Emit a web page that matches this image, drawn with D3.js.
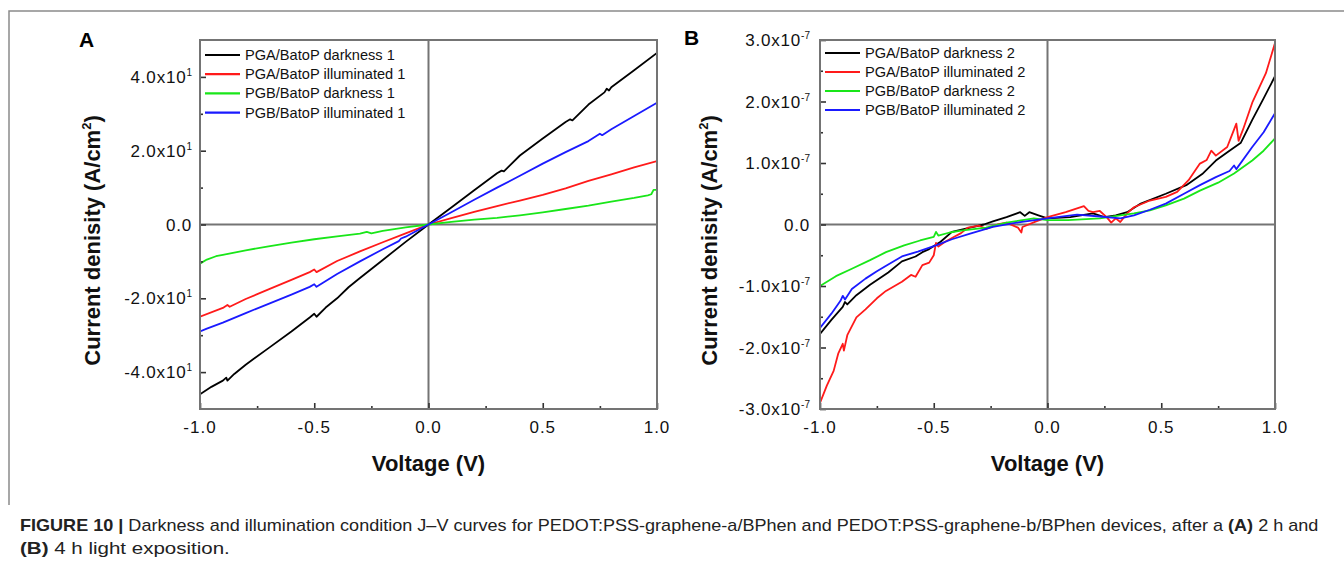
<!DOCTYPE html>
<html><head><meta charset="utf-8">
<script src="https://cdn.jsdelivr.net/npm/d3@7"></script>
<style>
html,body{margin:0;padding:0;background:#fff;}
svg{display:block;font-family:"Liberation Sans",Arial,sans-serif;}
</style></head>
<body>
<svg id="c" width="1344" height="564"></svg>
<script>
// ---------- DATA ----------
const seriesNamesA = ["PGA/BatoP darkness 1","PGA/BatoP illuminated 1","PGB/BatoP darkness 1","PGB/BatoP illuminated 1"];
const seriesNamesB = ["PGA/BatoP darkness 2","PGA/BatoP illuminated 2","PGB/BatoP darkness 2","PGB/BatoP illuminated 2"];
const seriesColors = ["#000000","#ff1a1a","#19e619","#1a1aff"];

const xTicks = [-1.0,-0.5,0.0,0.5,1.0];
const xTickLabels = ["-1.0","-0.5","0.0","0.5","1.0"];
const xMinorTicks = [-0.75,-0.25,0.25,0.75];

// Panel A (A/cm2, in units of 1)
const yTicksA = [-40,-20,0,20,40];
const yTickMantA = ["-4.0","-2.0","0.0","2.0","4.0"];
const yTickExpA = ["1","1","","1","1"];
const yMinorA = [-30,-10,10,30];

const blackA = [[-1,-46],[-0.95,-44],[-0.9,-42.3],[-0.885,-41.5],[-0.88,-42.3],[-0.85,-40.5],[-0.8,-38],[-0.7,-33.5],[-0.6,-29],[-0.52,-25.2],[-0.5,-24.2],[-0.49,-25],[-0.45,-22.5],[-0.4,-20],[-0.35,-17],[-0.3,-14.5],[-0.2,-9.6],[-0.1,-4.7],[0,0],[0.1,4.6],[0.2,9.3],[0.3,13.9],[0.32,14.6],[0.33,14.4],[0.4,18.7],[0.5,23.3],[0.6,27.8],[0.62,28.5],[0.63,28.2],[0.7,32.5],[0.77,35.8],[0.78,36.8],[0.79,36.3],[0.8,37.2],[0.9,41.8],[1,46.5]];
const redA = [[-1,-25],[-0.9,-22.6],[-0.88,-21.8],[-0.87,-22.3],[-0.8,-20.2],[-0.7,-17.6],[-0.6,-15],[-0.52,-12.9],[-0.5,-12.2],[-0.49,-12.9],[-0.4,-9.9],[-0.3,-7.3],[-0.2,-4.8],[-0.1,-2.4],[0,0],[0.1,1.7],[0.2,3.4],[0.3,5],[0.4,6.5],[0.5,8],[0.6,9.8],[0.7,11.8],[0.8,13.6],[0.9,15.5],[1,17.2]];
const greenA = [[-1,-10.6],[-0.97,-9.5],[-0.93,-8.6],[-0.9,-8.2],[-0.8,-7],[-0.7,-5.9],[-0.6,-4.9],[-0.5,-4],[-0.4,-3.2],[-0.3,-2.5],[-0.27,-2.0],[-0.25,-2.4],[-0.2,-1.7],[-0.1,-0.8],[0,0],[0.1,0.7],[0.2,1.3],[0.3,1.8],[0.4,2.5],[0.5,3.3],[0.6,4.2],[0.7,5.1],[0.8,6.2],[0.9,7.2],[0.96,7.9],[0.975,8.2],[0.985,9.4],[1,9.4]];
const blueA = [[-1,-29],[-0.97,-28.2],[-0.9,-26.6],[-0.8,-24],[-0.7,-21.5],[-0.6,-19],[-0.52,-16.9],[-0.5,-16.2],[-0.49,-16.9],[-0.4,-13.4],[-0.3,-10],[-0.2,-6.7],[-0.13,-4.5],[-0.12,-3.8],[-0.1,-3.3],[0,0],[0.1,3.3],[0.2,6.7],[0.3,10],[0.4,13.2],[0.5,16.5],[0.6,19.6],[0.7,22.6],[0.75,24.6],[0.76,24.2],[0.8,25.8],[0.9,29.4],[1,33]];

// Panel B (A/cm2, values in units of 1e-7)
const unitB = 1e-7;
const yTicksB = [-3,-2,-1,0,1,2,3];
const yTickMantB = ["-3.0","-2.0","-1.0","0.0","1.0","2.0","3.0"];
const yTickExpB = ["-7","-7","-7","","-7","-7","-7"];
const yMinorB = [-2.5,-1.5,-0.5,0.5,1.5,2.5];

const blackB = [[-1,-1.78],[-0.95,-1.55],[-0.9,-1.34],[-0.89,-1.26],[-0.88,-1.3],[-0.84,-1.15],[-0.78,-0.98],[-0.7,-0.78],[-0.64,-0.6],[-0.58,-0.52],[-0.55,-0.45],[-0.52,-0.4],[-0.47,-0.28],[-0.42,-0.12],[-0.34,-0.05],[-0.28,0.0],[-0.24,0.05],[-0.18,0.12],[-0.12,0.2],[-0.1,0.14],[-0.08,0.2],[-0.04,0.15],[0,0.1],[0.1,0.12],[0.2,0.18],[0.25,0.12],[0.3,0.15],[0.35,0.2],[0.41,0.34],[0.52,0.5],[0.61,0.64],[0.68,0.82],[0.74,1.04],[0.8,1.2],[0.85,1.33],[0.9,1.7],[0.95,2.05],[1,2.41]];
const redB = [[-1,-2.9],[-0.97,-2.62],[-0.94,-2.38],[-0.92,-2.1],[-0.9,-1.94],[-0.895,-2.05],[-0.88,-1.8],[-0.84,-1.51],[-0.8,-1.38],[-0.75,-1.2],[-0.71,-1.08],[-0.64,-0.93],[-0.6,-0.82],[-0.58,-0.85],[-0.55,-0.66],[-0.52,-0.62],[-0.5,-0.5],[-0.49,-0.3],[-0.48,-0.36],[-0.45,-0.28],[-0.42,-0.22],[-0.38,-0.14],[-0.35,-0.05],[-0.3,-0.02],[-0.27,-0.07],[-0.22,0.0],[-0.18,0.03],[-0.13,-0.05],[-0.115,-0.13],[-0.11,-0.04],[-0.05,0.05],[0,0.12],[0.08,0.2],[0.16,0.3],[0.18,0.22],[0.2,0.2],[0.23,0.22],[0.26,0.12],[0.28,0.03],[0.3,0.1],[0.32,0.04],[0.35,0.18],[0.38,0.28],[0.45,0.39],[0.52,0.45],[0.57,0.53],[0.62,0.72],[0.67,0.99],[0.7,1.05],[0.72,1.2],[0.74,1.12],[0.79,1.26],[0.81,1.45],[0.83,1.64],[0.84,1.36],[0.86,1.55],[0.9,1.98],[0.96,2.46],[1,2.95]];
const greenB = [[-1,-1.0],[-0.93,-0.84],[-0.86,-0.72],[-0.78,-0.58],[-0.71,-0.45],[-0.63,-0.34],[-0.56,-0.26],[-0.5,-0.2],[-0.49,-0.12],[-0.48,-0.18],[-0.43,-0.13],[-0.38,-0.1],[-0.27,-0.05],[-0.18,0.03],[-0.06,0.1],[0,0.07],[0.09,0.07],[0.23,0.1],[0.38,0.18],[0.45,0.23],[0.52,0.31],[0.6,0.42],[0.67,0.55],[0.75,0.68],[0.82,0.83],[0.9,1.04],[0.95,1.2],[1,1.4]];
const blueB = [[-1,-1.68],[-0.95,-1.45],[-0.91,-1.24],[-0.9,-1.16],[-0.89,-1.22],[-0.86,-1.05],[-0.8,-0.88],[-0.75,-0.76],[-0.7,-0.65],[-0.64,-0.52],[-0.57,-0.44],[-0.49,-0.34],[-0.42,-0.24],[-0.34,-0.15],[-0.24,-0.04],[-0.12,0.04],[0,0.1],[0.13,0.16],[0.23,0.13],[0.32,0.1],[0.38,0.15],[0.45,0.24],[0.52,0.34],[0.6,0.5],[0.67,0.64],[0.74,0.77],[0.8,0.87],[0.82,0.96],[0.83,0.9],[0.9,1.26],[0.95,1.5],[1,1.81]];

// ---------- DRAW ----------
const svg = d3.select("#c");
const frameCol = "#747474";

// outer figure frame
svg.append("path").attr("d","M9,505 L9,11 L1344,11").attr("fill","none").attr("stroke","#8a8a8a").attr("stroke-width",1.5);

function panel(cfg){
  const g = svg.append("g");
  const x = d3.scaleLinear().domain([-1,1]).range([cfg.left,cfg.right]);
  const y = d3.scaleLinear().domain(cfg.yDomain).range([cfg.bottom,cfg.top]);
  const clipId = "clip"+cfg.letter;
  svg.append("clipPath").attr("id",clipId).append("rect")
    .attr("x",cfg.left).attr("y",cfg.top).attr("width",cfg.right-cfg.left).attr("height",cfg.bottom-cfg.top);

  // zero lines
  g.append("line").attr("x1",x(0)).attr("x2",x(0)).attr("y1",cfg.top).attr("y2",cfg.bottom)
    .attr("stroke",frameCol).attr("stroke-width",2);
  g.append("line").attr("x1",cfg.left).attr("x2",cfg.right).attr("y1",y(0)).attr("y2",y(0))
    .attr("stroke",frameCol).attr("stroke-width",2);

  // series
  const line = d3.line().x(d=>x(d[0])).y(d=>y(d[1]*cfg.unit));
  const lg = g.append("g").attr("clip-path",`url(#${clipId})`);
  cfg.series.forEach((s,i)=>{
    lg.append("path").datum(s).attr("d",line).attr("fill","none")
      .attr("stroke",seriesColors[i]).attr("stroke-width",1.8).attr("stroke-linejoin","round");
  });

  // axes ticks (inward)
  const xAx = d3.axisBottom(x).tickValues(xTicks).tickSize(-6).tickFormat("");
  const xAxMin = d3.axisBottom(x).tickValues(xMinorTicks).tickSize(-3).tickFormat("");
  const yAx = d3.axisLeft(y).tickValues(cfg.yTicks.map(v=>v*cfg.unit)).tickSize(-6).tickFormat("");
  const yAxMin = d3.axisLeft(y).tickValues(cfg.yMinor.map(v=>v*cfg.unit)).tickSize(-3).tickFormat("");
  [[xAx,`translate(0,${cfg.bottom})`],[xAxMin,`translate(0,${cfg.bottom})`],[yAx,`translate(${cfg.left},0)`],[yAxMin,`translate(${cfg.left},0)`]].forEach(([ax,tr])=>{
    const a = g.append("g").attr("transform",tr).call(ax);
    a.select(".domain").remove();
    a.selectAll(".tick line").attr("stroke","#333").attr("stroke-width",1.6);
  });

  // frame
  g.append("rect").attr("x",cfg.left).attr("y",cfg.top).attr("width",cfg.right-cfg.left).attr("height",cfg.bottom-cfg.top)
    .attr("fill","none").attr("stroke",frameCol).attr("stroke-width",2);

  // x tick labels
  xTicks.forEach((v,i)=>{
    g.append("text").attr("x",x(v)).attr("y",cfg.bottom+24).attr("text-anchor","middle")
      .attr("font-size",17).attr("letter-spacing","1px").attr("fill","#111").text(xTickLabels[i]);
  });
  // y tick labels
  cfg.yTicks.forEach((v,i)=>{
    const t = g.append("text").attr("x",cfg.left-cfg.labelGap).attr("y",y(v*cfg.unit)+6).attr("text-anchor","end")
      .attr("font-size",17).attr("letter-spacing","0.8px").attr("fill","#111");
    const exp = cfg.yExp[i];
    t.append("tspan").text(cfg.yMant[i]+(exp? "x10":""));
    if(exp){ t.append("tspan").attr("dy",-7).attr("font-size",10).attr("letter-spacing","0px").text(exp); }
  });

  // axis titles
  g.append("text").attr("x",x(0)).attr("y",cfg.bottom+62).attr("text-anchor","middle")
    .attr("font-size",22).attr("font-weight","bold").attr("fill","#111").text("Voltage (V)");
  const yt = g.append("text").attr("transform",`translate(${cfg.yTitleX},${(cfg.top+cfg.bottom)/2+16}) rotate(-90)`)
    .attr("text-anchor","middle").attr("font-size",22).attr("font-weight","bold").attr("fill","#111");
  yt.append("tspan").text("Current denisity (A/cm");
  yt.append("tspan").attr("dy",-9).attr("font-size",13).text("2");
  yt.append("tspan").attr("dy",9).text(")");

  // panel letter
  g.append("text").attr("x",cfg.letterX).attr("y",cfg.letterY).attr("font-size",21).attr("font-weight","bold").attr("fill","#000").text(cfg.letter);

  // legend
  cfg.names.forEach((n,i)=>{
    const yy = cfg.legendY + i*cfg.legendStep;
    g.append("line").attr("x1",cfg.left+5).attr("x2",cfg.left+40).attr("y1",yy).attr("y2",yy)
      .attr("stroke",seriesColors[i]).attr("stroke-width",2.2);
    g.append("text").attr("x",cfg.left+45).attr("y",yy+5).attr("font-size",14.6).attr("fill","#111").text(n);
  });
}

panel({letter:"A",left:200,right:657,top:40,bottom:409,yDomain:[-50,50],unit:1,
  yTicks:yTicksA,yMant:yTickMantA,yExp:yTickExpA,yMinor:yMinorA,labelGap:8,
  series:[blackA,redA,greenA,blueA],names:seriesNamesA,yTitleX:100,letterX:79,letterY:47,legendY:55,legendStep:19.2});
panel({letter:"B",left:820,right:1275,top:40,bottom:409,yDomain:[-3*unitB,3*unitB],unit:unitB,
  yTicks:yTicksB,yMant:yTickMantB,yExp:yTickExpB,yMinor:yMinorB,labelGap:10,
  series:[blackB,redB,greenB,blueB],names:seriesNamesB,yTitleX:717,letterX:684,letterY:45,legendY:53,legendStep:19});

// caption
function captionLine(parts, yBase, width){
  const t = svg.append("text").attr("x",0).attr("y",0).attr("font-size",16).attr("fill","#222");
  parts.forEach(p=>t.append("tspan").attr("font-weight",p[1]?"bold":"normal").text(p[0]));
  const w = t.node().getComputedTextLength();
  t.attr("transform",`translate(20,${yBase}) scale(${width/w},1)`);
}
captionLine([["FIGURE 10 | ",true],["Darkness and illumination condition J–V curves for PEDOT:PSS-graphene-a/BPhen and PEDOT:PSS-graphene-b/BPhen devices, after a ",false],["(A)",true],[" 2 h and",false]],531,1300);
captionLine([["(B)",true],[" 4 h light exposition.",false]],554,210);
</script>
</body></html>
